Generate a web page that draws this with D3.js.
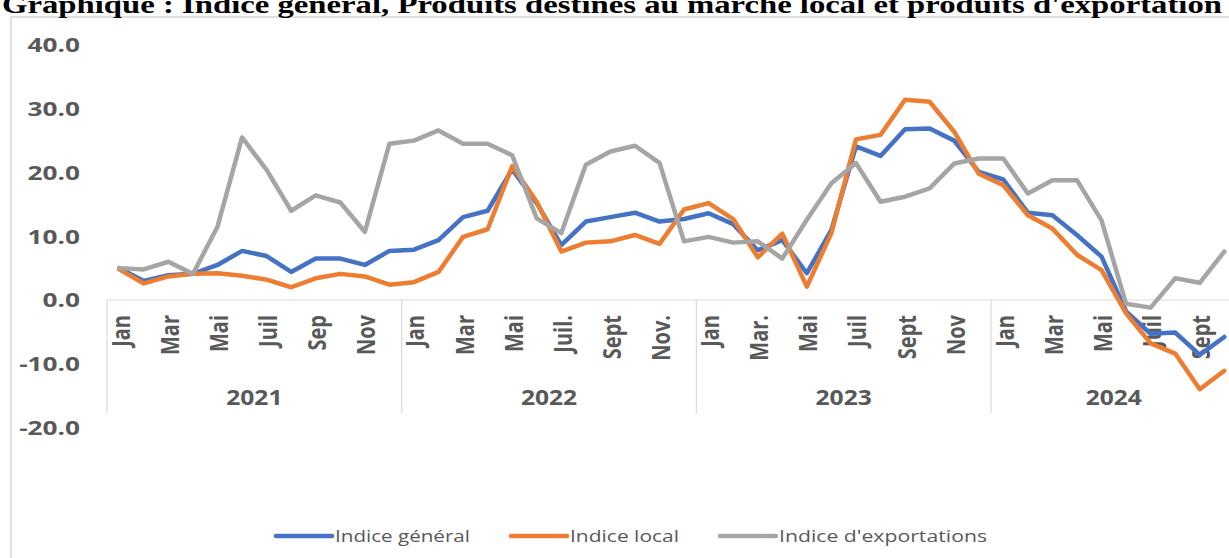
<!DOCTYPE html>
<html><head><meta charset="utf-8">
<script src="https://cdn.jsdelivr.net/npm/d3@7"></script>
<style>body{margin:0;background:#fff;overflow:hidden}</style>
</head><body>
<svg id="c" width="1229" height="558"></svg>
<script>
const titleText = "Graphique : Indice général, Produits destinés au marché local et produits d'exportation";
const years = ["2021", "2022", "2023", "2024"];
const monthsPerYear = [12, 12, 12, 10];
const monthLabels = [
  ["Jan","","Mar","","Mai","","Juil","","Sep","","Nov",""],
  ["Jan","","Mar","","Mai","","Juil.","","Sept","","Nov.",""],
  ["Jan","","Mar.","","Mai","","Juil","","Sept","","Nov",""],
  ["Jan","","Mar","","Mai","","Juil","","Sept",""]
];
const seriesNames = ["Indice général", "Indice local", "Indice d'exportations"];
const general = [5.0, 3.0, 3.9, 4.1, 5.5, 7.7, 6.9, 4.4, 6.5, 6.5, 5.5, 7.7,
  7.9, 9.4, 13.0, 14.0, 20.5, 15.2, 8.6, 12.3, 13.0, 13.7, 12.3, 12.7,
  13.6, 11.9, 7.8, 9.4, 4.2, 11.0, 24.1, 22.6, 26.8, 26.9, 25.0, 20.1,
  18.9, 13.7, 13.3, 10.2, 6.8, -1.8, -5.3, -5.1, -8.6, -5.8];
const local = [4.8, 2.6, 3.7, 4.1, 4.2, 3.8, 3.2, 2.0, 3.4, 4.1, 3.7, 2.4,
  2.8, 4.4, 9.9, 11.1, 21.0, 15.4, 7.6, 9.0, 9.2, 10.2, 8.8, 14.2,
  15.2, 12.7, 6.7, 10.4, 2.1, 10.5, 25.2, 25.9, 31.4, 31.1, 26.4, 19.8,
  18.0, 13.3, 11.2, 7.1, 4.7, -2.1, -6.8, -8.4, -14.0, -11.1];
const exportations = [5.0, 4.8, 6.0, 4.1, 11.5, 25.5, 20.4, 14.0, 16.4, 15.3, 10.7, 24.5,
  25.0, 26.6, 24.5, 24.5, 22.7, 12.8, 10.5, 21.2, 23.3, 24.2, 21.5, 9.2,
  9.9, 9.0, 9.2, 6.5, 12.6, 18.3, 21.5, 15.4, 16.2, 17.5, 21.4, 22.2,
  22.2, 16.7, 18.8, 18.8, 12.5, -0.6, -1.2, 3.4, 2.7, 7.6];
const yTicks = [-20, -10, 0, 10, 20, 30, 40];

const colors = ["#4472C4", "#ED7D31", "#A5A5A5"];
const series = [general, local, exportations];
const labelColor = "#595959";

const svg = d3.select("#c");
const N = d3.sum(monthsPerYear);
const step = 24.556;
const x0 = 107;
const x = d3.scaleBand().domain(d3.range(N)).range([x0, x0 + N * step]).padding(0);
const cx = i => x(i) + x.bandwidth() / 2;
const y = d3.scaleLinear().domain([-20, 40]).range([427.5, 45]);

// chart frame
svg.append("rect").attr("x", 11).attr("y", 17).attr("width", 1400).attr("height", 700)
  .attr("fill", "#fff").attr("stroke", "#d6d6d6").attr("stroke-width", 1.5);

// title
svg.append("text").attr("x", 2).attr("y", 12.5)
  .attr("font-family", "'Liberation Serif', 'Times New Roman', serif")
  .attr("font-weight", "bold").attr("font-size", 25).attr("fill", "#000")
  .attr("textLength", 1220).attr("lengthAdjust", "spacingAndGlyphs")
  .text(titleText);

// y axis labels
const yAxis = d3.axisLeft(y).tickValues(yTicks).tickSize(0).tickPadding(0)
  .tickFormat(v => v.toFixed(1));
const gy = svg.append("g").attr("transform", "translate(80,0)").call(yAxis);
gy.select(".domain").remove();
gy.selectAll("text")
  .attr("font-family", "'Open Sans', sans-serif").attr("font-weight", 700)
  .attr("font-size", 19).attr("fill", labelColor)
  .attr("dy", "0.36em").attr("transform", "scale(1.38,1)");

// x axis line
svg.append("line").attr("x1", x0).attr("x2", x0 + N * step)
  .attr("y1", y(0)).attr("y2", y(0)).attr("stroke", "#d9d9d9").attr("stroke-width", 1.2);

// year groups
let start = 0;
const flatLabels = [];
years.forEach((yr, k) => {
  const n = monthsPerYear[k];
  const xs = x(start);
  svg.append("line").attr("x1", xs).attr("x2", xs).attr("y1", y(0)).attr("y2", 413)
    .attr("stroke", "#d9d9d9").attr("stroke-width", 1.2);
  const xm = xs + n * step / 2;
  svg.append("text").attr("transform", `translate(${xm},405) scale(1.2,1)`)
    .attr("text-anchor", "middle")
    .attr("font-family", "'Open Sans', sans-serif").attr("font-weight", 700)
    .attr("font-size", 20.5).attr("fill", labelColor).text(yr);
  monthLabels[k].forEach(m => flatLabels.push(m));
  start += n;
});

// month labels
flatLabels.forEach((m, i) => {
  if (!m) return;
  svg.append("text")
    .attr("transform", `translate(${cx(i) + 1.5},315) scale(1.25,1) rotate(-90)`)
    .attr("text-anchor", "end").attr("dy", "0.36em")
    .attr("font-family", "'Open Sans', sans-serif").attr("font-weight", 700)
    .attr("font-size", 20).attr("fill", labelColor).text(m);
});

// lines
const line = d3.line().x((d, i) => cx(i)).y(d => y(d));
series.forEach((s, k) => {
  svg.append("path").datum(s).attr("d", line)
    .attr("fill", "none").attr("stroke", colors[k]).attr("stroke-width", 4.5)
    .attr("stroke-linejoin", "round").attr("stroke-linecap", "round");
});

// legend
const legX = [276, 511, 720];
const legW = [135, 109, 208];
seriesNames.forEach((nm, k) => {
  svg.append("line").attr("x1", legX[k]).attr("x2", legX[k] + 56)
    .attr("y1", 536).attr("y2", 536).attr("stroke", colors[k])
    .attr("stroke-width", 4.5).attr("stroke-linecap", "round");
  svg.append("text").attr("x", legX[k] + 59).attr("y", 536).attr("dy", "0.35em")
    .attr("font-family", "'Open Sans', sans-serif").attr("font-size", 16.5)
    .attr("fill", labelColor)
    .attr("textLength", legW[k]).attr("lengthAdjust", "spacingAndGlyphs")
    .text(nm);
});
</script>
</body></html>
